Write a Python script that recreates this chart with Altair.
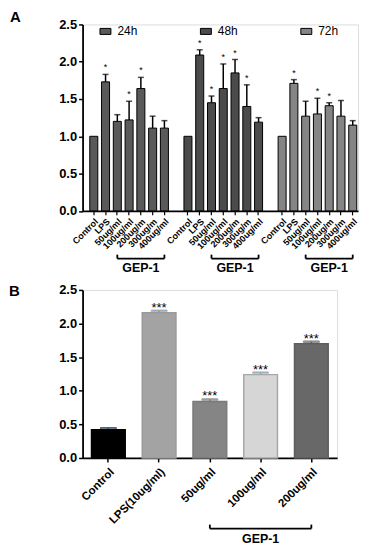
import altair as alt
import pandas as pd

# ---------------- Panel A data ----------------
times = ["24h", "48h", "72h"]
treatments = ["Control", "LPS", "50ug/ml", "100ug/ml", "200ug/m", "300ug/m", "400ug/ml"]
means_24h = [1.00, 1.73, 1.20, 1.22, 1.64, 1.11, 1.11]
sd_24h = [0.00, 0.10, 0.09, 0.25, 0.15, 0.16, 0.10]
sig_24h = ["", "*", "", "*", "*", "", ""]
means_48h = [1.00, 2.09, 1.45, 1.64, 1.85, 1.40, 1.19]
sd_48h = [0.00, 0.07, 0.09, 0.33, 0.18, 0.29, 0.06]
sig_48h = ["", "*", "*", "*", "*", "*", ""]
means_72h = [1.00, 1.71, 1.27, 1.30, 1.41, 1.27, 1.15]
sd_72h = [0.00, 0.05, 0.20, 0.21, 0.04, 0.21, 0.06]
sig_72h = ["", "*", "", "*", "*", "", ""]
colors_a = ["#5a5a5a", "#4b4b4b", "#858585"]

# ---------------- Panel B data ----------------
labels_b = ["Control", "LPS(10ug/ml)", "50ug/ml", "100ug/ml", "200ug/ml"]
values_b = [0.42, 2.16, 0.84, 1.24, 1.70]
sd_b = [0.02, 0.03, 0.03, 0.03, 0.03]
sig_b = ["", "***", "***", "***", "***"]
fills_b = ["#000000", "#a3a3a3", "#858585", "#d6d6d6", "#686868"]
strokes_b = ["#000000", "#9a9a9a", "#7a7a7a", "#a8a8a8", "#5e5e5e"]

FONT = "Liberation Sans"

rows = []
for t, ms, sds, sgs in zip(times, [means_24h, means_48h, means_72h],
                           [sd_24h, sd_48h, sd_72h], [sig_24h, sig_48h, sig_72h]):
    for tr, m, s, g in zip(treatments, ms, sds, sgs):
        rows.append(dict(key=f"{t}|{tr}", time=t, label=tr, mean=m, top=m + s, sd=s, sig=g))
df_a = pd.DataFrame(rows)

keys_a = []
for i, t in enumerate(times):
    keys_a += [f"{t}|{tr}" for tr in treatments]
    if i < len(times) - 1:
        keys_a.append(f"gap{i+1}")

WA, HA = 277, 187.5
xscale_a = alt.Scale(domain=keys_a, paddingInner=0.32, paddingOuter=0.36, align=0.85)
yscale_a = alt.Scale(domain=[0, 2.5], nice=False)

yaxis = dict(tickCount=5, tickMinStep=0.5, format=".1f", labelFontSize=13,
             labelFontWeight="bold", titleFontSize=14, titleFontWeight="bold",
             domainColor="black", domainWidth=1.8, tickColor="black", tickWidth=1.5,
             tickSize=4, labelColor="black", titleColor="black", grid=False, titlePadding=6,
             labelOverlap=False)

bars_a = alt.Chart(df_a).mark_bar(stroke="black", strokeWidth=1).encode(
    x=alt.X("key:N", scale=xscale_a, title=None, sort=keys_a,
            axis=alt.Axis(labelExpr="split(datum.value, '|')[1] || ''", labelAngle=-45,
                          labelFontSize=9, labelFontWeight="bold", labelColor="black",
                          domainColor="black", domainWidth=1.8, tickSize=4, tickWidth=1.2,
                          tickColor={"condition": {"test": "indexof(datum.value, 'gap') >= 0",
                                                   "value": "transparent"}, "value": "black"},
                          labelPadding=2, labelOverlap=False)),
    y=alt.Y("mean:Q", scale=yscale_a, title="Cell Vability (%)", axis=alt.Axis(**yaxis)),
    color=alt.Color("time:N", scale=alt.Scale(domain=times, range=colors_a),
                    legend=alt.Legend(orient="none", legendX=17, legendY=1, direction="horizontal",
                                      title=None, symbolType="M-1,-0.55H1V0.55H-1Z", symbolSize=121,
                                      symbolStrokeColor="black", symbolStrokeWidth=1,
                                      labelFontSize=12, labelColor="black", labelFont=FONT,
                                      columnPadding=60, padding=0, labelOffset=6, symbolOpacity=1)),
)

err_df_a = df_a[df_a["sd"] > 0]
err_rule_a = alt.Chart(err_df_a).mark_rule(color="black", strokeWidth=1.5).encode(
    x=alt.X("key:N", scale=xscale_a, title=None), y=alt.Y("mean:Q", scale=yscale_a, title=None),
    y2="top:Q")
err_cap_a = alt.Chart(err_df_a).mark_tick(color="black", thickness=1.5, size=6).encode(
    x=alt.X("key:N", scale=xscale_a, title=None), y=alt.Y("top:Q", scale=yscale_a, title=None))
stars_a = alt.Chart(df_a[df_a["sig"] != ""]).mark_text(fontSize=9, dy=-4, baseline="alphabetic",
                                                       color="black", font=FONT).encode(
    x=alt.X("key:N", scale=xscale_a, title=None), y=alt.Y("top:Q", scale=yscale_a, title=None),
    text="sig:N")

brk_a = pd.DataFrame({
    "start": [f"{t}|50ug/ml" for t in times],
    "end": [f"{t}|400ug/ml" for t in times],
    "mid": [f"{t}|200ug/m" for t in times],
    "name": ["GEP-1"] * 3,
})
bracket_a = alt.Chart(brk_a).mark_rule(color="black", strokeWidth=1.8).encode(
    x=alt.X("start:N", scale=xscale_a, title=None), x2="end:N", y=alt.value(HA + 48))
brk_ends_a = pd.DataFrame({"k": list(brk_a["start"]) + list(brk_a["end"])})
bracket_ends_a = alt.Chart(brk_ends_a).mark_rule(color="black", strokeWidth=1.8).encode(
    x=alt.X("k:N", scale=xscale_a, title=None), y=alt.value(HA + 44), y2=alt.value(HA + 48))
gep_a = alt.Chart(brk_a).mark_text(fontSize=12.5, fontWeight="bold", baseline="middle",
                                   color="black", font=FONT).encode(
    x=alt.X("mid:N", scale=xscale_a, title=None), y=alt.value(HA + 57), text="name:N")
letter_a = alt.Chart(pd.DataFrame({"t": ["A"]})).mark_text(
    fontSize=15, fontWeight="bold", align="left", baseline="top", color="black", font=FONT
).encode(x=alt.value(-73), y=alt.value(-14), text="t:N")

panel_a = alt.layer(bars_a, err_rule_a, err_cap_a, stars_a, bracket_a, bracket_ends_a,
                    gep_a, letter_a).properties(width=WA, height=HA)

# ---------------- Panel B ----------------
df_b = pd.DataFrame({"label": labels_b, "value": values_b, "sd": sd_b, "sig": sig_b})
df_b["top"] = df_b["value"] + df_b["sd"]
WB, HB = 256, 169
xscale_b = alt.Scale(domain=labels_b, paddingInner=0.336, paddingOuter=0.176)
yscale_b = alt.Scale(domain=[0, 2.5], nice=False)
fill_scale = alt.Scale(domain=labels_b, range=fills_b)
stroke_scale = alt.Scale(domain=labels_b, range=strokes_b)

bars_b = alt.Chart(df_b).mark_bar(strokeWidth=1.5).encode(
    x=alt.X("label:N", scale=xscale_b, sort=labels_b, title=None,
            axis=alt.Axis(labelAngle=-45, labelFontSize=11.5, labelFontWeight="bold",
                          labelColor="black", domainColor="black", domainWidth=1.8,
                          tickColor="black", tickWidth=1.5, tickSize=4, labelPadding=4,
                          labelOverlap=False)),
    y=alt.Y("value:Q", scale=yscale_b, title="Phagocytic activity", axis=alt.Axis(**yaxis)),
    fill=alt.Fill("label:N", scale=fill_scale, legend=None),
    stroke=alt.Stroke("label:N", scale=stroke_scale, legend=None),
)
err_rule_b = alt.Chart(df_b).mark_rule(strokeWidth=1.5).encode(
    x=alt.X("label:N", scale=xscale_b, title=None),
    y=alt.Y("value:Q", scale=yscale_b, title=None), y2="top:Q",
    stroke=alt.Stroke("label:N", scale=stroke_scale, legend=None))
err_cap_b = alt.Chart(df_b).mark_tick(thickness=1.5, size=16).encode(
    x=alt.X("label:N", scale=xscale_b, title=None), y=alt.Y("top:Q", scale=yscale_b, title=None),
    stroke=alt.Stroke("label:N", scale=stroke_scale, legend=None))
stars_b = alt.Chart(df_b[df_b["sig"] != ""]).mark_text(fontSize=13, dy=1, baseline="alphabetic",
                                                       color="black", font=FONT).encode(
    x=alt.X("label:N", scale=xscale_b, title=None), y=alt.Y("top:Q", scale=yscale_b, title=None),
    text="sig:N")

brk_b = pd.DataFrame({"start": ["50ug/ml"], "end": ["200ug/ml"], "mid": ["100ug/ml"], "name": ["GEP-1"]})
bracket_b = alt.Chart(brk_b).mark_rule(color="black", strokeWidth=1.8).encode(
    x=alt.X("start:N", scale=xscale_b, title=None), x2="end:N", y=alt.value(HB + 71))
brk_ends_b = pd.DataFrame({"k": ["50ug/ml", "200ug/ml"]})
bracket_ends_b = alt.Chart(brk_ends_b).mark_rule(color="black", strokeWidth=1.8).encode(
    x=alt.X("k:N", scale=xscale_b, title=None), y=alt.value(HB + 67), y2=alt.value(HB + 71))
gep_b = alt.Chart(brk_b).mark_text(fontSize=12.5, fontWeight="bold", baseline="middle",
                                   color="black", font=FONT).encode(
    x=alt.X("mid:N", scale=xscale_b, title=None), y=alt.value(HB + 82), text="name:N")
letter_b = alt.Chart(pd.DataFrame({"t": ["B"]})).mark_text(
    fontSize=15, fontWeight="bold", align="left", baseline="top", color="black", font=FONT
).encode(x=alt.value(-74), y=alt.value(-6), text="t:N")

panel_b = alt.layer(bars_b, err_rule_b, err_cap_b, stars_b, bracket_b, bracket_ends_b,
                    gep_b, letter_b).properties(width=WB, height=HB)

chart = alt.vconcat(panel_a, panel_b, spacing=8).resolve_scale(
    x="independent", y="independent", color="independent", fill="independent",
    stroke="independent").properties(padding=0).configure_view(
    stroke=None).configure(font=FONT)

chart.save("out.html", embed_options={"renderer": "svg", "actions": False})
